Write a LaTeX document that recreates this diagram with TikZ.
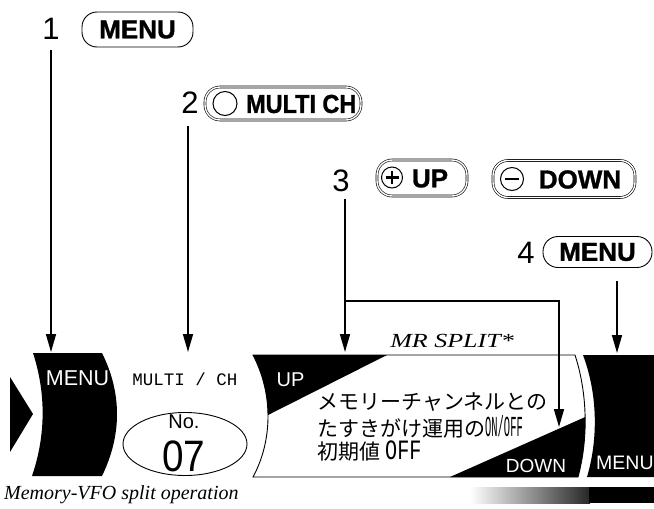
\documentclass[tikz,border=0pt]{standalone}
\usepackage{fontspec}
\usetikzlibrary{arrows.meta,shapes.geometric}
\newfontfamily\hv{Liberation Sans}[BoldFeatures={FakeBold=1.2}]
\newfontfamily\tmf{Liberation Serif}
\newfontfamily\monof{Liberation Mono}
\newfontfamily\jpf{Noto Sans CJK JP}
\tikzset{
  conn/.style={line width=1.6pt, -{Triangle[length=18pt,width=10pt]}},
  pill/.style={draw, line width=0.9pt, rounded corners=15pt, inner sep=0pt},
  dpill/.style={pill, double, double distance=1.4pt, line width=0.6pt},
  digit/.style={font=\hv\fontsize{31}{31}\selectfont, inner sep=0pt},
  btn/.style={font=\hv\bfseries\fontsize{26}{26}\selectfont, inner sep=0pt},
  wlab/.style={text=white, font=\hv\fontsize{20}{20}\selectfont, inner sep=0pt},
  jp/.style={font=\jpf\fontsize{21}{21}\selectfont, anchor=west, inner sep=0pt},
  ring/.style={circle, draw, line width=1pt, inner sep=0pt, minimum size=23pt},
}
\begin{document}
\begin{tikzpicture}[x=1pt,y=-1pt]
\useasboundingbox (0,0) rectangle (654,509);

% ---------- step 1 ----------
\node[digit] (s1) at (51,29) {1};
\node[pill, btn, minimum width=111pt, minimum height=35pt] (p1) at (137.5,29.5) {MENU};

% ---------- step 2 ----------
\node[digit] (s2) at (190,103) {2};
\node[dpill, minimum width=156pt, minimum height=33pt] (p2) at (283,103.5) {};
\node[ring, minimum size=24pt] (c2) at (225,103.5) {};
\node[btn, anchor=west] (p2t) at (246,104) {\scalebox{0.9}[1]{MULTI CH}};

% ---------- step 3 ----------
\node[digit] (s3) at (341,181) {3};
\node[dpill, minimum width=90pt, minimum height=36pt] (pu) at (422,178) {};
\node[ring, minimum size=21pt] (cu) at (392,177.5) {};
\draw[line width=2.6pt] (cu.center) +(-6.5,0) -- +(6.5,0);
\draw[line width=2.6pt] (cu.center) +(0,-6.5) -- +(0,6.5);
\node[btn] (put) at (430,178.5) {UP};
\node[dpill, minimum width=142pt, minimum height=37pt] (pd) at (564,179) {};
\node[ring, minimum size=23pt] (cd) at (512,179) {};
\draw[line width=2.6pt] (cd.center) +(-7,0) -- +(7,0);
\node[btn] (pdt) at (580,179.5) {DOWN};

% ---------- step 4 ----------
\node[digit] (s4) at (526,253) {4};
\node[pill, btn, minimum width=109pt, minimum height=31pt] (p4) at (597.5,252) {MENU};

% ---------- display strip ----------
% left triangle
\fill (10,377) -- (33,414) -- (10,452) -- cycle;
% left MENU block
\fill (33,353) .. controls (46,393) and (46,435) .. (32,476) -- (102,476)
      .. controls (122,435) and (122,393) .. (102,353) -- cycle;
\node[wlab, font=\hv\fontsize{21.5}{21.5}\selectfont] (mL) at (77.5,378) {MENU};

% MULTI / CH
\node[font=\monof\fontsize{17.5}{17.5}\selectfont, inner sep=0pt] (mc) at (185,379) {MULTI / CH};
\node[draw, ellipse, line width=0.9pt, minimum width=124pt, minimum height=63pt] (no) at (185,444) {};
\node[font=\hv\fontsize{20}{20}\selectfont, inner sep=0pt] (not) at (184,422) {No.};
\node[font=\hv\fontsize{44}{44}\selectfont, inner sep=0pt] (nn) at (184,456) {\scalebox{0.88}[1]{07}};

% main panel
\def\panelpath{(253,355) -- (575,355) .. controls (588,395) and (588,440) .. (578,477)
      -- (253,477) .. controls (273,440) and (273,393) .. (253,355) -- cycle}
\begin{scope}
  \clip \panelpath;
  \fill (200,355) -- (387,355) -- (200,449.3) -- cycle;
  \fill (450,477) -- (650,388.3) -- (650,480) -- (450,480) -- cycle;
\end{scope}
\draw[line width=0.9pt] \panelpath;
\node[wlab] (up) at (290.5,380) {UP};
\node[wlab, font=\hv\fontsize{19}{19}\selectfont] (dn) at (536,465.5) {DOWN};
\node[font=\tmf\itshape\fontsize{20}{20}\selectfont, inner sep=0pt] (mr) at (452,341)
  {\scalebox{1.3}[1]{MR SPLIT*}};
\node[jp] (j1) at (317,402) {メモリーチャンネルとの};
\node[jp] (j2) at (317,427) {たすきがけ運用の{\monof\fontsize{29}{29}\selectfont\scalebox{0.36}[1]{ON/OFF}}};
\node[jp] (j3) at (317,451) {初期値\hspace{5pt}{\monof\fontsize{28}{28}\selectfont\scalebox{0.72}[1]{OFF}}};

% right MENU block
\fill (583,355) .. controls (598,395) and (598,440) .. (587,477) -- (654,477) -- (654,355) -- cycle;
\node[wlab, anchor=west, font=\hv\fontsize{19.5}{19.5}\selectfont] (mR) at (596,463) {MENU};

% bottom bar
\shade[left color=white, right color=black!85] (470,487) rectangle (590,503);
\fill (589,487) rectangle (654,503);

% caption
\node[font=\tmf\itshape\fontsize{20}{20}\selectfont, anchor=west, inner sep=0pt] (cap) at (4,495)
  {Memory-VFO split operation};

% ---------- connectors ----------
\coordinate (t1) at (51,352);
\coordinate (t2) at (188,352);
\coordinate (t3) at (345,352);
\coordinate (br) at (345,301);
\coordinate (t3b) at (559,427);
\coordinate (t4) at (617,353);
\draw[conn] (s1.south) ++(0,10) -- (t1);
\draw[conn] (s2.south -| t2) ++(0,12) -- (t2);
\draw[conn] (s3.south -| t3) ++(0,7) -- (t3);
\draw[conn] (br) -| (t3b);
\draw[conn] (p4.south -| t4) ++(0,13) -- (t4);
\end{tikzpicture}
\end{document}
